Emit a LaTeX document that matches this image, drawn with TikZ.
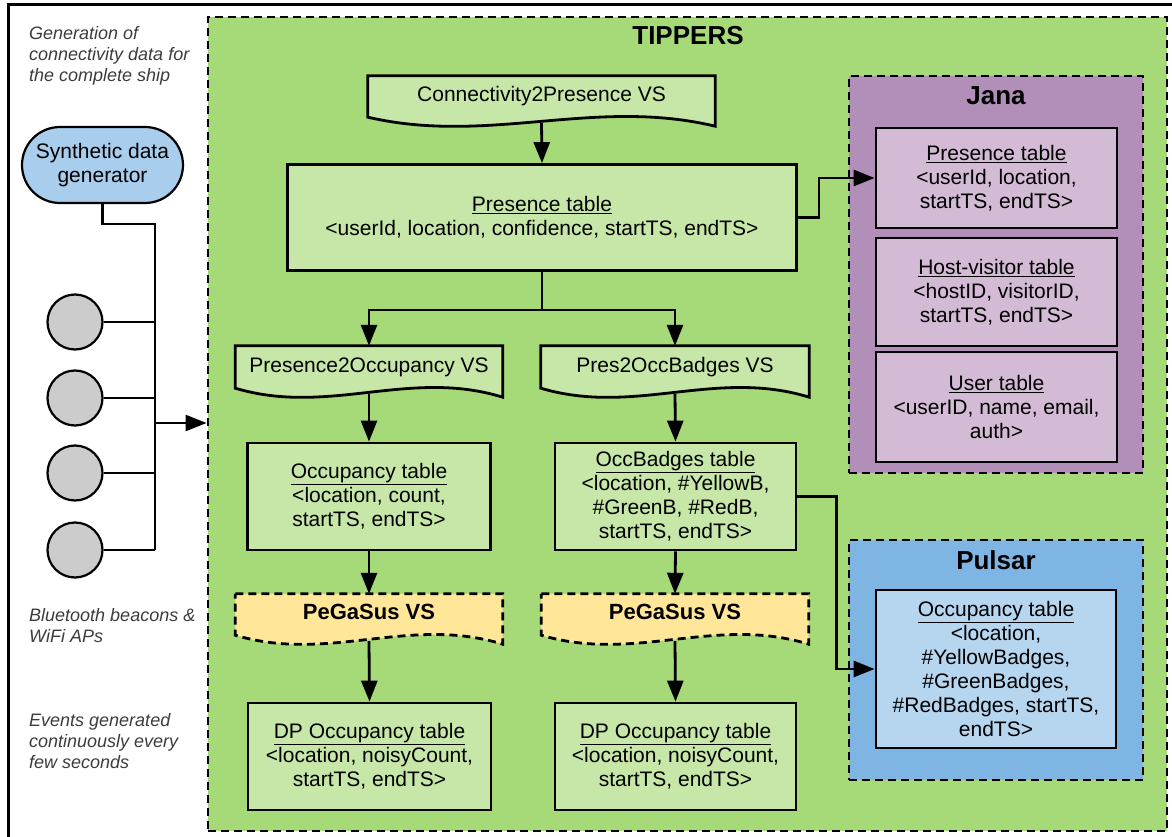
\documentclass[tikz,border=0pt]{standalone}
\usepackage{fontspec}
\setmainfont{Liberation Sans}
\usetikzlibrary{arrows.meta,calc,shapes.misc}

\pgfdeclarelayer{bg}
\pgfsetlayers{bg,main}

\definecolor{tippersgreen}{RGB}{166,217,119}
\definecolor{boxgreen}{RGB}{198,231,168}
\definecolor{janapurple}{RGB}{178,143,184}
\definecolor{boxpurple}{RGB}{211,187,213}
\definecolor{pulsarblue}{RGB}{127,181,226}
\definecolor{boxblue}{RGB}{182,214,240}
\definecolor{pegasusyellow}{RGB}{255,230,153}
\definecolor{genblue}{RGB}{169,205,236}
\definecolor{beacongray}{RGB}{204,204,204}
\definecolor{notegray}{RGB}{60,60,60}

\tikzset{
  txt/.style={font=\fontsize{21}{24}\selectfont},
  frm/.style={draw, dash pattern=on 8pt off 5pt, line width=2.8pt},
  ttl/.style={font=\bfseries\fontsize{26}{30}\selectfont},
  tbl/.style={txt, draw, line width=2.8pt, fill=boxgreen, align=center, inner sep=0pt},
  vsnode/.style={txt, inner sep=0pt, text height=14pt, text depth=10pt},
  vsline/.style={draw, line width=2.8pt, fill=boxgreen},
  pgsline/.style={vsline, fill=pegasusyellow, dash pattern=on 8pt off 5pt},
  note/.style={font=\itshape\fontsize{18}{21}\selectfont, text=notegray, align=left, anchor=west, inner sep=0pt},
  beacon/.style={circle, draw, line width=2.2pt, fill=beacongray, minimum size=55pt, inner sep=0pt},
  gen/.style={txt, rounded rectangle, draw, line width=2.2pt, fill=genblue, align=center,
    minimum width=161pt, minimum height=76pt, inner sep=0pt},
  link/.style={line width=2.8pt},
  arr/.style={link, -{Triangle[length=21pt, width=16pt]}}
}

% document shape with a wavy bottom, drawn round a named node
\newcommand\vsoutline[2]{%
  \draw[#2] (#1.north west) -- (#1.north east) -- ($(#1.south east)+(0,3)$)
    .. controls ($(#1.south east)!0.35!(#1.south west)+(0,-26)$)
    and ($(#1.south east)!0.65!(#1.south west)+(0,22)$)
    .. ($(#1.south west)+(0,-6)$) -- cycle;}

\begin{document}
\begin{tikzpicture}[x=1pt, y=-1pt]
\useasboundingbox (0,0) rectangle (1172,837);
% outer border
\draw[line width=3pt] (1172,5) -- (8,5) -- (8,837);

% frames
\begin{pgfonlayer}{bg}
    \node[frm, fill=tippersgreen, minimum width=959pt, minimum height=814pt] (tippers) at (687.5,424) {};
    \node[frm, fill=janapurple, minimum width=294pt, minimum height=397pt] (jana) at (996,274.5) {};
    \node[frm, fill=pulsarblue, minimum width=294pt, minimum height=240pt] (pulsar) at (996,660) {};
\end{pgfonlayer}
\node[ttl] (tippersttl) at (688,36) {TIPPERS};
\node[ttl] (janattl) at (996,96) {Jana};
\node[ttl] (pulsarttl) at (996,560) {Pulsar};

% left side
\node[note] (notegen) at (29,56) {Generation of\\connectivity data for\\the complete ship};
\node[note] (notebeacon) at (29,626) {Bluetooth beacons \&\\WiFi APs};
\node[note] (noteevents) at (29,741) {Events generated\\continuously every\\few seconds};
\node[gen] (gen) at (102.5,165) {Synthetic data\\generator};
\foreach \y [count=\i] in {322,398,473,550}
    \node[beacon] (b\i) at (75,\y) {};
\coordinate (busend) at (155,550);
\coordinate (tap) at (155,423);
\draw[line width=2.2pt] (gen.south) -- ++(0,20) -| (busend);
\foreach \i in {1,...,4}
    \draw[line width=2.2pt] (b\i.east) -- (b\i -| busend);
\draw[arr, line width=2.2pt] (tap) -- (tap -| tippers.west);

% virtual sensors
\node[vsnode, minimum width=347pt, minimum height=47pt] (c2p) at (541.5,99.5) {Connectivity2Presence VS};
\node[vsnode, minimum width=267pt, minimum height=48pt] (p2o) at (369,370) {Presence2Occupancy VS};
\node[vsnode, minimum width=268pt, minimum height=48pt] (p2b) at (675,370) {Pres2OccBadges VS};
\node[vsnode, font=\bfseries\fontsize{22}{26}\selectfont, minimum width=267pt, minimum height=47pt] (pgs1) at (369,617.5) {PeGaSus VS};
\node[vsnode, font=\bfseries\fontsize{22}{26}\selectfont, minimum width=267pt, minimum height=47pt] (pgs2) at (675,617.5) {PeGaSus VS};
\begin{pgfonlayer}{bg}
    \vsoutline{c2p}{vsline}
    \vsoutline{p2o}{vsline}
    \vsoutline{p2b}{vsline}
    \vsoutline{pgs1}{pgsline}
    \vsoutline{pgs2}{pgsline}
\end{pgfonlayer}

% tables
\node[tbl, minimum width=509pt, minimum height=106pt] (pres) at (542,217.5)
    {\underline{Presence table}\\<userId, location, confidence, startTS, endTS>};
\node[tbl, minimum width=243pt, minimum height=107pt] (occ) at (369,496.5)
    {\underline{Occupancy table}\\<location, count,\\startTS, endTS>};
\node[tbl, minimum width=241pt, minimum height=107pt] (occb) at (675.5,496.5)
    {\underline{OccBadges table}\\<location, \#YellowB,\\\#GreenB, \#RedB,\\startTS, endTS>};
\node[tbl, minimum width=243pt, minimum height=107pt] (dp1) at (369.5,756.5)
    {\underline{DP Occupancy table}\\<location, noisyCount,\\startTS, endTS>};
\node[tbl, minimum width=241pt, minimum height=107pt] (dp2) at (675.5,756.5)
    {\underline{DP Occupancy table}\\<location, noisyCount,\\startTS, endTS>};
\node[tbl, fill=boxpurple, minimum width=241pt, minimum height=100pt] (jpres) at (996.5,178)
    {\underline{Presence table}\\<userId, location,\\startTS, endTS>};
\node[tbl, fill=boxpurple, minimum width=241pt, minimum height=108pt] (jhost) at (996.5,292)
    {\underline{Host-visitor table}\\<hostID, visitorID,\\startTS, endTS>};
\node[tbl, fill=boxpurple, minimum width=241pt, minimum height=110pt] (juser) at (996.5,407)
    {\underline{User table}\\<userID, name, email,\\auth>};
\node[tbl, fill=boxblue, minimum width=240pt, minimum height=158pt] (ptab) at (996,669)
    {\underline{Occupancy table}\\<location,\\\#YellowBadges,\\\#GreenBadges,\\\#RedBadges, startTS,\\endTS>};

% connectors
\draw[arr] (c2p.south) -- (pres.north);
\draw[link] (pres.south) -- ++(0,38) coordinate (split);
\draw[arr] (split) -| (p2o.north);
\draw[arr] (split) -| (p2b.north);
\draw[arr] (p2o.south) -- (occ.north);
\draw[arr] (p2b.south) -- (occb.north);
\draw[arr] (occ.south) -- (pgs1.north);
\draw[arr] (occb.south) -- (pgs2.north);
\draw[arr] (pgs1.south) -- (dp1.north);
\draw[arr] (pgs2.south) -- (dp2.north);
\draw[arr] (pres.east) -- ++(21,0) |- (jpres.west);
\draw[arr] (occb.east) -- ++(39,0) |- (ptab.west);
\end{tikzpicture}
\end{document}
